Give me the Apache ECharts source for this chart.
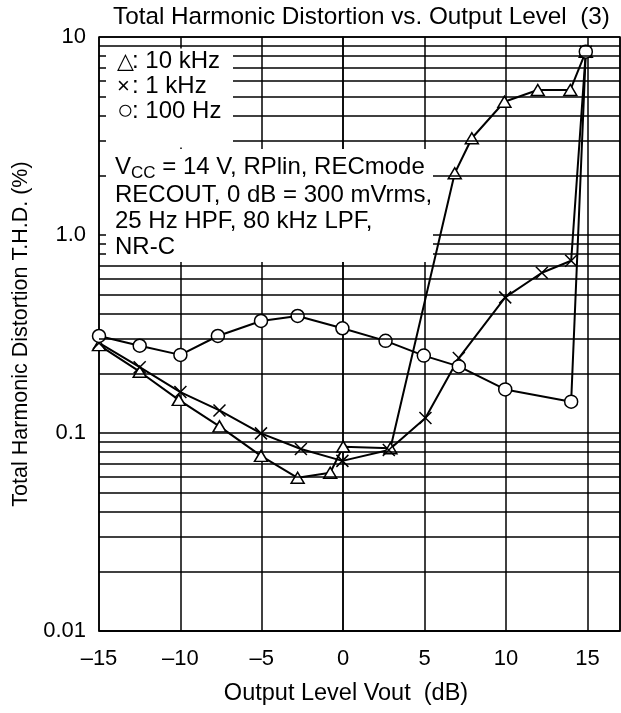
<!DOCTYPE html>
<html><head><meta charset="utf-8">
<script src="https://cdn.jsdelivr.net/npm/echarts@6/dist/echarts.min.js"></script>
<style>html,body{margin:0;padding:0;background:#fff}#c{width:621px;height:713px}</style>
</head><body><div id="c"></div>
<script>
// ---- data ----
const xTicks = [-15, -10, -5, 0, 5, 10, 15];
const xTickLabels = ['\u201315', '\u201310', '\u20135', '0', '5', '10', '15'];
const yTicks = [0.01, 0.1, 1, 10];
const yTickLabels = ['0.01', '0.1', '1.0', '10'];
const minorGrid = [0.02, 0.03, 0.04, 0.05, 0.06, 0.07, 0.08, 0.09,
                   0.2, 0.3, 0.4, 0.5, 0.6, 0.7, 0.8, 0.9,
                   2, 3, 4, 5, 6, 7, 8, 9];

const level10k = [-15, -12.5, -10.1, -7.6, -5.05, -2.8, -0.8, 0, 2.9, 6.85, 7.9, 9.9, 11.95, 13.95, 14.9];
const thd10k   = [0.278, 0.204, 0.147, 0.108, 0.0766, 0.0594, 0.063, 0.0853, 0.0837, 2.05, 3.08, 4.71, 5.40, 5.40, 8.43];

const level1k  = [-15, -12.5, -10, -7.6, -5.05, -2.6, -0.05, 2.8, 5.05, 7.1, 9.95, 12.2, 14.0, 14.9];
const thd1k    = [0.285, 0.215, 0.161, 0.130, 0.0996, 0.083, 0.0723, 0.082, 0.119, 0.239, 0.484, 0.645, 0.741, 8.43];

const level100 = [-15, -12.5, -10, -7.7, -5.05, -2.8, -0.05, 2.6, 4.95, 7.1, 9.95, 14.0, 14.9];
const thd100   = [0.309, 0.276, 0.248, 0.309, 0.368, 0.390, 0.338, 0.292, 0.246, 0.217, 0.166, 0.144, 8.43];

const FONT = '"Liberation Sans", Arial, "DejaVu Sans", sans-serif';
const zip = (a, b) => a.map((v, i) => [v, b[i]]);
const crossPath = 'path://M0,0L10,10M0,10L10,0';

const chart = echarts.init(document.getElementById('c'), null, {renderer: 'canvas'});
const base = {
  type: 'line', color: '#000', animation: false, silent: true,
  lineStyle: {color: '#000', width: 2},
  emphasis: {disabled: true},
  itemStyle: {color: '#fff', borderColor: '#000', borderWidth: 1.5}
};
const txt = {color: '#000', fontFamily: FONT, fontWeight: 'normal'};
chart.setOption({
  animation: false,
  backgroundColor: '#fff',
  title: [
    {text: 'Total Harmonic Distortion vs. Output Level  (3)', left: 113, top: 5, padding: 0, z: 10,
     textStyle: Object.assign({fontSize: 24.3}, txt)},
    // legend box (white background hides the grid behind it)
    {text: '{s|\u25B3}{a|: 10 kHz}\n{s|\u00D7}{a|: 1 kHz}\n{o|\u25CB}{a|: 100 Hz}',
     left: 106, top: 48, padding: [1, 0, 22, 11], backgroundColor: '#fff', z: 10,
     textStyle: Object.assign({rich: {
       s: Object.assign({fontSize: 22, lineHeight: 25, verticalAlign: 'middle', width: 15, align: 'left'}, txt),
       o: Object.assign({fontSize: 28, lineHeight: 25, verticalAlign: 'middle', width: 15, align: 'left'}, txt),
       a: Object.assign({fontSize: 24, lineHeight: 25, verticalAlign: 'middle', width: 101, align: 'left'}, txt)
     }}, txt)},
    // conditions box
    {text: '{a|V}{s|CC}{a| = 14 V, RPlin, RECmode}\n{a|RECOUT, 0 dB = 300 mVrms,}\n{a|25 Hz HPF, 80 kHz LPF,}\n{w|NR-C}',
     left: 106, top: 146, padding: [6, 0, 3, 9], backgroundColor: '#fff', z: 10,
     textStyle: Object.assign({rich: {
       a: Object.assign({fontSize: 24, lineHeight: 26, verticalAlign: 'middle'}, txt),
       w: Object.assign({fontSize: 24, lineHeight: 26, verticalAlign: 'middle', width: 318, align: 'left'}, txt),
       s: Object.assign({fontSize: 17, lineHeight: 30, verticalAlign: 'bottom'}, txt)
     }}, txt)}
  ],
  grid: {left: 99, right: 1, top: 37, bottom: 82, show: true, borderColor: '#000', borderWidth: 1.5, backgroundColor: 'transparent'},
  xAxis: {
    type: 'value', min: -15, max: 17, interval: 5,
    name: 'Output Level Vout  (dB)', nameLocation: 'middle', nameGap: 51,
    nameTextStyle: Object.assign({fontSize: 23.5, padding: [0, 27, 0, 0]}, txt),
    axisLine: {show: true, lineStyle: {color: '#000', width: 1.5}},
    axisTick: {show: false},
    splitLine: {show: true, lineStyle: {color: '#000', width: 1.5}},
    axisLabel: Object.assign({
      show: true, margin: 17, fontSize: 22, showMaxLabel: false,
      formatter: v => { const i = xTicks.indexOf(Math.round(v)); return i >= 0 ? xTickLabels[i] : ''; }
    }, txt)
  },
  yAxis: {
    type: 'log', logBase: 10, min: 0.01, max: 10,
    name: 'Total Harmonic Distortion T.H.D. (%)', nameLocation: 'middle', nameGap: 67, nameRotate: 90,
    nameTextStyle: Object.assign({fontSize: 21.5}, txt),
    axisLine: {show: true, lineStyle: {color: '#000', width: 1.5}},
    axisTick: {show: false},
    splitLine: {show: true, lineStyle: {color: '#000', width: 1.5}},
    axisLabel: Object.assign({
      show: true, margin: 13, fontSize: 22,
      formatter: v => { const e = Math.round(Math.log10(v)); const i = yTicks.findIndex(t => Math.round(Math.log10(t)) === e); return i >= 0 ? yTickLabels[i] : ''; }
    }, txt)
  },
  series: [
    Object.assign({}, base, {
      name: '10 kHz', data: zip(level10k, thd10k), symbol: 'triangle', symbolSize: [13, 11], z: 3,
      markLine: {silent: true, symbol: 'none', animation: false, label: {show: false},
        lineStyle: {color: '#000', width: 1.5, type: 'solid'},
        emphasis: {disabled: true},
        data: minorGrid.map(v => ({yAxis: v}))}
    }),
    Object.assign({}, base, {name: '1 kHz', data: zip(level1k, thd1k), symbol: crossPath, symbolSize: 12, z: 3,
      itemStyle: {color: 'none', borderColor: '#000', borderWidth: 1.5}}),
    Object.assign({}, base, {name: '100 Hz', data: zip(level100, thd100), symbol: 'circle', symbolSize: 13, z: 4})
  ]
});
</script>
</body></html>
